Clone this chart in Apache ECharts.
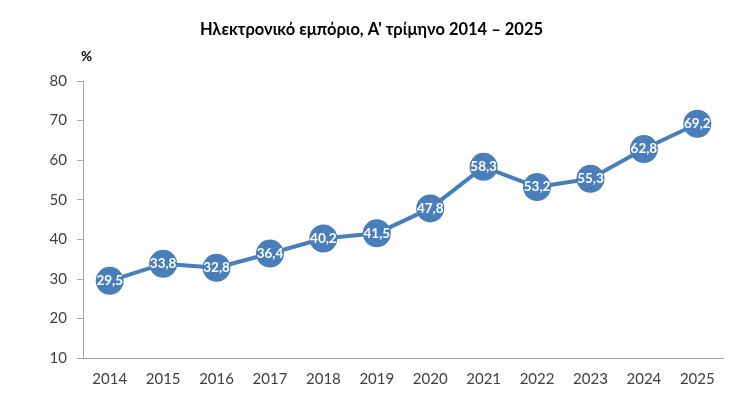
<!DOCTYPE html>
<html><head><meta charset="utf-8">
<script src="https://cdn.jsdelivr.net/npm/echarts@6/dist/echarts.min.js"></script>
<style>html,body{margin:0;padding:0;background:#fff}#c{width:743px;height:399px}</style>
</head><body><div id="c"></div>
<script>
const categories = ['2014','2015','2016','2017','2018','2019','2020','2021','2022','2023','2024','2025'];
const values = [29.5, 33.8, 32.8, 36.4, 40.2, 41.5, 47.8, 58.3, 53.2, 55.3, 62.8, 69.2];
const yMin = 10, yMax = 80, yStep = 10;
const titleText = 'Ηλεκτρονικό εμπόριο, Α\' τρίμηνο 2014 – 2025';
const unitText = '%';
const font = 'Lato, "Open Sans", sans-serif';
const chart = echarts.init(document.getElementById('c'));
chart.setOption({
  animation: false,
  title: [{text: titleText, left: 'center', top: 16, textStyle: {fontFamily: font, fontSize: 16.5, fontWeight: 'bold', color: '#000'}},
          {text: unitText, left: 76, top: 45, textStyle: {fontFamily: font, fontSize: 13.5, fontWeight: 'bold', color: '#000'}}],
  grid: {left: 83, right: 19, top: 81, bottom: 41},
  xAxis: {type: 'category', data: categories, boundaryGap: true,
    axisLine: {lineStyle: {color: '#a6a6a6', width: 1}}, axisTick: {show: false},
    axisLabel: {fontFamily: font, fontSize: 15, color: '#404040', margin: 14}},
  yAxis: {type: 'value', min: yMin, max: yMax, interval: yStep,
    axisLine: {show: true, lineStyle: {color: '#a6a6a6', width: 1}},
    axisTick: {show: true, length: 6, lineStyle: {color: '#a6a6a6'}},
    splitLine: {show: false},
    axisLabel: {fontFamily: font, fontSize: 15, color: '#404040', margin: 16}},
  series: [{type: 'line', data: values, symbol: 'circle', symbolSize: 28,
    lineStyle: {color: '#4a7ebb', width: 4}, itemStyle: {color: '#4a7ebb'},
    label: {show: true, position: 'inside', color: '#fff', fontFamily: font, fontSize: 13.5, fontWeight: 'bold',
      formatter: p => p.value.toFixed(1).replace('.', ',')}}]
});
</script></body></html>
